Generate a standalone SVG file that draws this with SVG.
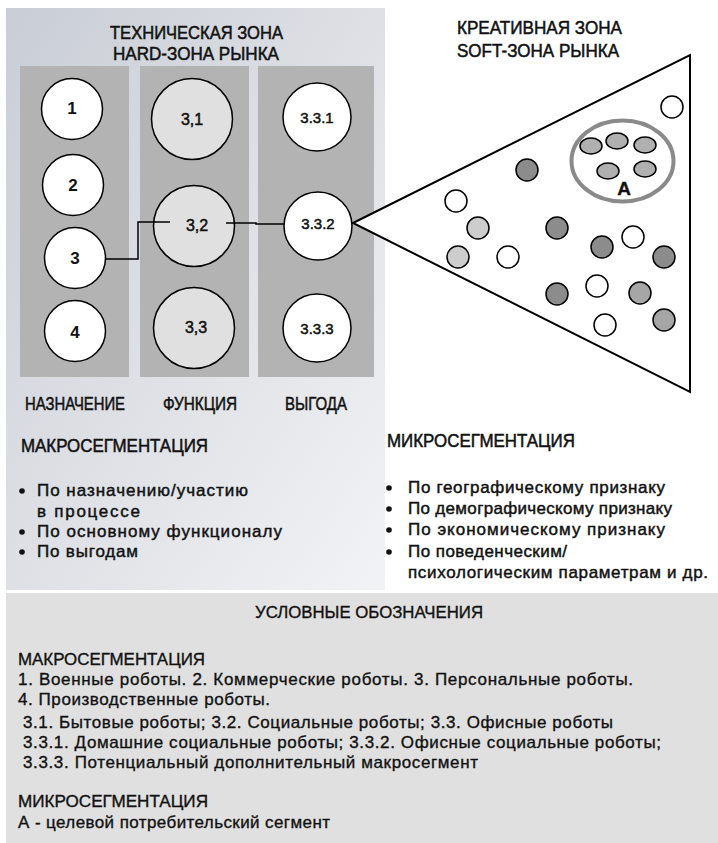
<svg xmlns="http://www.w3.org/2000/svg" width="718" height="843" viewBox="0 0 718 843">
<defs>
<linearGradient id="bg" x1="0" y1="0" x2="1" y2="1">
<stop offset="0" stop-color="#c9cdd5"/>
<stop offset="1" stop-color="#f2f3f5"/>
</linearGradient>
</defs>
<style>
text{font-family:"Liberation Sans",Arial,sans-serif;fill:#111;stroke:#111;stroke-width:0.35}
.t{font-size:18px;stroke-width:0.5}
.b{font-size:17px;stroke-width:0.45}
.lg{font-size:17px;stroke-width:0.35}
.num{font-size:17px;font-weight:bold;text-anchor:middle;stroke-width:0}
.n2{font-size:16px;text-anchor:middle;stroke-width:0.5}
.n3{font-size:15px;text-anchor:middle;stroke-width:0.5}
.col{fill:#b3b3b3}
.cw{fill:#fff;stroke:#000;stroke-width:1.5}
.cg{fill:#e0e0e0;stroke:#000;stroke-width:1.5}
.dot{stroke:#000;stroke-width:1.5}
.w{fill:#fff}.d{fill:#8c8c8c}.m{fill:#a6a6a6}.l{fill:#cdcdcd}.e{fill:#b0b0b0}
.conn{fill:none;stroke:#000;stroke-width:1.5}
</style>
<rect x="0" y="0" width="718" height="843" fill="#fff"/>
<rect x="6" y="8" width="379" height="582" fill="url(#bg)"/>
<rect x="6" y="593" width="712" height="250" fill="#e0e0e0"/>
<g id="columns">
<rect class="col" x="20" y="66" width="109" height="311"/>
<rect class="col" x="140" y="66" width="109" height="311"/>
<rect class="col" x="258" y="66" width="116" height="311"/>
</g>
<g id="titles">
<text class="t" x="110" y="39" textLength="173" lengthAdjust="spacingAndGlyphs">ТЕХНИЧЕСКАЯ ЗОНА</text>
<text class="t" x="113" y="60" textLength="166" lengthAdjust="spacingAndGlyphs">HARD-ЗОНА РЫНКА</text>
<text class="t" x="457" y="34" font-size="17" textLength="165" lengthAdjust="spacingAndGlyphs">КРЕАТИВНАЯ ЗОНА</text>
<text class="t" x="457" y="57" font-size="17" textLength="162" lengthAdjust="spacingAndGlyphs">SOFT-ЗОНА РЫНКА</text>
<text class="t" x="25" y="410" textLength="100" lengthAdjust="spacingAndGlyphs">НАЗНАЧЕНИЕ</text>
<text class="t" x="163" y="410" textLength="74" lengthAdjust="spacingAndGlyphs">ФУНКЦИЯ</text>
<text class="t" x="285" y="410" textLength="62" lengthAdjust="spacingAndGlyphs">ВЫГОДА</text>
</g>
<g id="soft-zone">
<polygon points="353,223 690,55 690,392" fill="#fff" stroke="#000" stroke-width="2"/>
<g id="segment-A">
<ellipse cx="622.5" cy="161" rx="51" ry="40.5" fill="#fff" stroke="#8a8a8a" stroke-width="4"/>
<ellipse class="dot e" cx="591" cy="146" rx="11" ry="8"/>
<ellipse class="dot e" cx="617" cy="141" rx="11" ry="8"/>
<ellipse class="dot e" cx="645" cy="145" rx="11" ry="8"/>
<ellipse class="dot e" cx="608" cy="171" rx="11" ry="8"/>
<ellipse class="dot e" cx="645" cy="169" rx="11" ry="8"/>
<text x="624" y="195" font-size="19" font-weight="bold" stroke-width="0" text-anchor="middle">А</text>
</g>
<g id="micro-dots">
<circle class="dot w" cx="672" cy="107" r="11"/>
<circle class="dot d" cx="527" cy="170" r="11"/>
<circle class="dot w" cx="456" cy="201" r="11"/>
<circle class="dot l" cx="478" cy="228" r="11"/>
<circle class="dot l" cx="458" cy="257" r="11"/>
<circle class="dot w" cx="508" cy="257" r="11"/>
<circle class="dot d" cx="557" cy="228" r="11"/>
<circle class="dot d" cx="602" cy="247" r="11"/>
<circle class="dot w" cx="633" cy="237" r="11"/>
<circle class="dot d" cx="664" cy="257" r="11"/>
<circle class="dot d" cx="557" cy="294" r="11"/>
<circle class="dot w" cx="597" cy="286" r="11"/>
<circle class="dot m" cx="640" cy="293" r="11"/>
<circle class="dot w" cx="605" cy="325" r="11"/>
<circle class="dot m" cx="664" cy="320" r="11"/>
</g>
</g>
<g id="node-1"><circle class="cw" cx="72" cy="109" r="30.5"/><text class="num" x="72" y="114">1</text></g>
<g id="node-2"><circle class="cw" cx="73" cy="185" r="30.5"/><text class="num" x="73" y="191">2</text></g>
<g id="node-3"><circle class="cw" cx="75" cy="258" r="30.5"/><text class="num" x="75" y="264">3</text></g>
<g id="node-4"><circle class="cw" cx="75" cy="331" r="30.5"/><text class="num" x="75" y="338">4</text></g>
<g id="node-3-1"><circle class="cg" cx="192" cy="119" r="40.5"/><text class="n2" x="192" y="125">3,1</text></g>
<g id="node-3-2"><circle class="cg" cx="194" cy="226" r="40.5"/><text class="n2" x="197" y="231">3,2</text></g>
<g id="node-3-3"><circle class="cg" cx="194" cy="328" r="40.5"/><text class="n2" x="196" y="333">3,3</text></g>
<g id="node-3-3-1"><circle class="cw" cx="317" cy="117" r="34"/><text class="n3" x="317" y="123">3.3.1</text></g>
<g id="node-3-3-2"><circle class="cw" cx="318" cy="226" r="34"/><text class="n3" x="318" y="229">3.3.2</text></g>
<g id="node-3-3-3"><circle class="cw" cx="317" cy="328" r="34"/><text class="n3" x="317" y="334">3.3.3</text></g>
<g id="connectors">
<path class="conn" d="M105.5,259 H138 V222 H170"/>
<path class="conn" d="M226,223 H256 V224 H284"/>
</g>
<g id="macro-text">
<text class="t" x="21" y="452" textLength="187" lengthAdjust="spacingAndGlyphs">МАКРОСЕГМЕНТАЦИЯ</text>
<circle cx="22" cy="491" r="2.8" fill="#111"/>
<text class="b" x="37" y="496" textLength="211" lengthAdjust="spacing">По назначению/участию</text>
<text class="b" x="37" y="517" textLength="103" lengthAdjust="spacing">в процессе</text>
<circle cx="22" cy="532" r="2.8" fill="#111"/>
<text class="b" x="37" y="537" textLength="245" lengthAdjust="spacing">По основному функционалу</text>
<circle cx="22" cy="552" r="2.8" fill="#111"/>
<text class="b" x="37" y="557" textLength="101" lengthAdjust="spacing">По выгодам</text>
</g>
<g id="micro-text">
<text class="t" x="387" y="447" textLength="188" lengthAdjust="spacingAndGlyphs">МИКРОСЕГМЕНТАЦИЯ</text>
<circle cx="389" cy="488" r="2.8" fill="#111"/>
<text class="b" x="408" y="493" textLength="257" lengthAdjust="spacing">По географическому признаку</text>
<circle cx="389" cy="509" r="2.8" fill="#111"/>
<text class="b" x="408" y="514" textLength="264" lengthAdjust="spacing">По демографическому признаку</text>
<circle cx="389" cy="530" r="2.8" fill="#111"/>
<text class="b" x="408" y="535" textLength="257" lengthAdjust="spacing">По экономическому признаку</text>
<circle cx="389" cy="552" r="2.8" fill="#111"/>
<text class="b" x="408" y="557" textLength="159" lengthAdjust="spacing">По поведенческим/</text>
<text class="b" x="408" y="578" textLength="300" lengthAdjust="spacing">психологическим параметрам и др.</text>
</g>
<g id="legend">
<text class="lg" x="255" y="618" textLength="228" lengthAdjust="spacingAndGlyphs">УСЛОВНЫЕ ОБОЗНАЧЕНИЯ</text>
<text class="lg" x="18" y="665" textLength="187" lengthAdjust="spacingAndGlyphs">МАКРОСЕГМЕНТАЦИЯ</text>
<text class="lg" x="18" y="685" textLength="615" lengthAdjust="spacing">1. Военные роботы. 2. Коммерческие роботы. 3. Персональные роботы.</text>
<text class="lg" x="18" y="705" textLength="252" lengthAdjust="spacing">4. Производственные роботы.</text>
<text class="lg" x="23" y="728" textLength="590" lengthAdjust="spacing">3.1. Бытовые роботы; 3.2. Социальные роботы; 3.3. Офисные роботы</text>
<text class="lg" x="23" y="748" textLength="638" lengthAdjust="spacing">3.3.1. Домашние социальные роботы; 3.3.2. Офисные социальные роботы;</text>
<text class="lg" x="23" y="768" textLength="455" lengthAdjust="spacing">3.3.3. Потенциальный дополнительный макросегмент</text>
<text class="lg" x="18" y="807" textLength="190" lengthAdjust="spacingAndGlyphs">МИКРОСЕГМЕНТАЦИЯ</text>
<text class="lg" x="18" y="828" textLength="312" lengthAdjust="spacing">А - целевой потребительский сегмент</text>
</g>
</svg>
